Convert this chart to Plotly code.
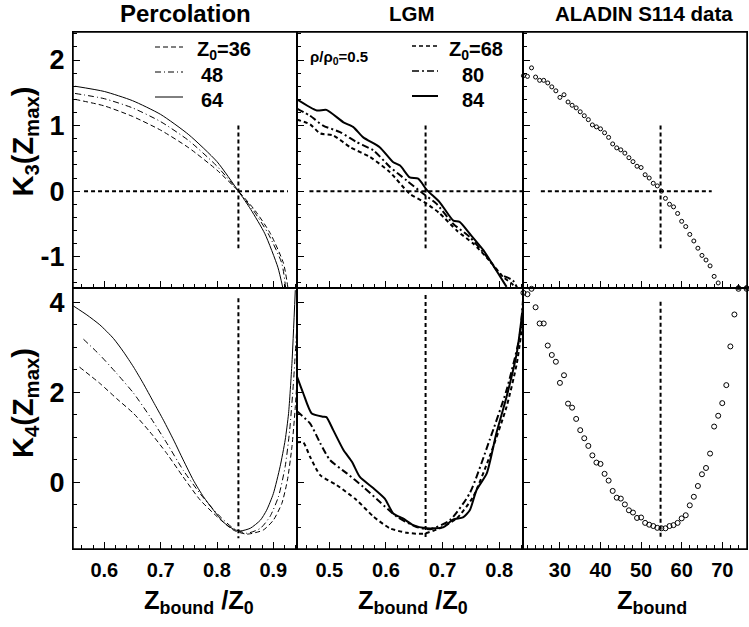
import plotly.graph_objects as go

W, H = 749, 627

# ---------------- data ----------------
# Percolation, K3
perc_k3_x36 = [0.548, 0.60, 0.65, 0.70, 0.75, 0.80, 0.838, 0.868, 0.895, 0.918, 0.926]
perc_k3_y36 = [1.40, 1.30, 1.14, 0.93, 0.66, 0.32, 0.0, -0.30, -0.65, -1.10, -1.48]
perc_k3_x48 = [0.548, 0.60, 0.65, 0.70, 0.75, 0.80, 0.838, 0.865, 0.891, 0.915, 0.922]
perc_k3_y48 = [1.49, 1.41, 1.27, 1.06, 0.77, 0.38, 0.0, -0.30, -0.65, -1.10, -1.48]
perc_k3_x64 = [0.548, 0.60, 0.65, 0.70, 0.75, 0.80, 0.838, 0.86, 0.885, 0.908, 0.917]
perc_k3_y64 = [1.60, 1.52, 1.38, 1.17, 0.86, 0.45, 0.0, -0.28, -0.65, -1.16, -1.48]

# Percolation, K4
perc_k4_x36 = [0.556, 0.592, 0.622, 0.652, 0.681, 0.711, 0.740, 0.770, 0.800, 0.829, 0.853,
               0.882, 0.900, 0.915, 0.925, 0.933, 0.939, 0.944]
perc_k4_y36 = [2.56, 2.20, 1.86, 1.53, 1.12, 0.64, 0.12, -0.39, -0.76, -1.06, -1.15,
               -1.06, -0.84, -0.47, 0.05, 0.79, 1.68, 2.70]
perc_k4_x48 = [0.563, 0.592, 0.622, 0.652, 0.681, 0.711, 0.740, 0.770, 0.800, 0.829, 0.853,
               0.877, 0.894, 0.909, 0.921, 0.929, 0.936, 0.941]
perc_k4_y48 = [3.18, 2.83, 2.42, 1.98, 1.46, 0.87, 0.27, -0.25, -0.69, -1.02, -1.13,
               -1.02, -0.76, -0.32, 0.35, 1.16, 2.27, 3.31]
perc_k4_x64 = [0.545, 0.569, 0.592, 0.616, 0.634, 0.652, 0.669, 0.687, 0.705, 0.723, 0.740,
               0.758, 0.776, 0.794, 0.811, 0.829, 0.841, 0.859, 0.877, 0.888, 0.900, 0.912,
               0.921, 0.927, 0.933, 0.939]
perc_k4_y64 = [3.92, 3.72, 3.50, 3.20, 2.90, 2.56, 2.20, 1.79, 1.38, 0.94, 0.50,
               0.05, -0.32, -0.62, -0.88, -1.04, -1.08, -1.02, -0.84, -0.62, -0.25, 0.35,
               0.94, 1.53, 2.64, 4.27]

# LGM, K3
lgm_k3_x68 = [0.443, 0.466, 0.484, 0.507, 0.537, 0.572, 0.607, 0.642, 0.672, 0.695, 0.725,
              0.754, 0.783, 0.807, 0.822, 0.830]
lgm_k3_y68 = [1.09, 1.02, 0.88, 0.85, 0.67, 0.52, 0.29, -0.04, -0.19, -0.34, -0.60,
              -0.80, -1.06, -1.31, -1.41, -1.48]
lgm_k3_x80 = [0.443, 0.466, 0.489, 0.519, 0.548, 0.578, 0.607, 0.637, 0.666, 0.689, 0.719,
              0.748, 0.778, 0.801, 0.824, 0.832]
lgm_k3_y80 = [1.26, 1.15, 1.00, 0.90, 0.75, 0.62, 0.37, 0.16, -0.04, -0.19, -0.50,
              -0.70, -1.00, -1.26, -1.36, -1.48]
lgm_k3_x84 = [0.443, 0.478, 0.495, 0.525, 0.542, 0.560, 0.589, 0.613, 0.625, 0.642, 0.657,
              0.672, 0.695, 0.719, 0.730, 0.748, 0.772, 0.795, 0.813]
lgm_k3_y84 = [1.40, 1.23, 1.24, 1.05, 0.98, 0.82, 0.67, 0.44, 0.39, 0.21, 0.19,
              0.02, -0.17, -0.45, -0.47, -0.65, -0.90, -1.21, -1.46]

# LGM, K4
lgm_k4_x68 = [0.443, 0.454, 0.466, 0.484, 0.513, 0.548, 0.578, 0.607, 0.637, 0.666, 0.695,
              0.725, 0.754, 0.783, 0.813, 0.831, 0.842]
lgm_k4_y68 = [0.89, 0.89, 0.57, 0.16, -0.06, -0.39, -0.76, -1.02, -1.12, -1.14, -1.02,
              -0.80, -0.32, 0.57, 1.68, 2.64, 3.60]
lgm_k4_x80 = [0.443, 0.466, 0.484, 0.501, 0.531, 0.560, 0.589, 0.619, 0.654, 0.678, 0.713,
              0.748, 0.783, 0.813, 0.836, 0.842]
lgm_k4_y80 = [1.58, 1.31, 0.87, 0.50, 0.20, -0.10, -0.43, -0.76, -0.99, -1.04, -0.84,
              -0.24, 0.94, 2.05, 3.24, 4.05]
lgm_k4_x84 = [0.443, 0.454, 0.469, 0.489, 0.495, 0.507, 0.525, 0.540, 0.554, 0.578, 0.598,
              0.613, 0.630, 0.648, 0.672, 0.701, 0.719, 0.736, 0.748, 0.760, 0.778, 0.795,
              0.813, 0.831, 0.842]
lgm_k4_y84 = [2.35, 1.98, 1.53, 1.46, 1.45, 1.16, 0.72, 0.46, 0.12, -0.13, -0.36,
              -0.69, -0.80, -0.95, -1.02, -1.00, -0.82, -0.78, -0.62, -0.17, 0.20, 1.09,
              1.90, 2.87, 3.90]

# ALADIN S114 data
data_z_k3 = list(range(21, 70)) + [74, 76]
data_k3 = [1.76, 1.75, 1.88, 1.74, 1.69, 1.69, 1.65, 1.59, 1.53, 1.43,
           1.47, 1.36, 1.31, 1.27, 1.21, 1.15, 1.09, 1.01, 0.98, 0.95,
           0.89, 0.82, 0.72, 0.66, 0.63, 0.58, 0.51, 0.45, 0.38, 0.36,
           0.25, 0.20, 0.12, 0.08, 0.00, -0.11, -0.20, -0.24, -0.34, -0.46,
           -0.54, -0.66, -0.76, -0.87, -0.98, -1.05, -1.14, -1.30, -1.40,
           -1.47, -1.47]
data_z_k4 = list(range(21, 75)) + [76]
data_k4 = [4.21, 4.18, 4.30, 3.89, 3.53, 3.53, 3.04, 2.83, 2.68, 2.21,
           2.38, 1.75, 1.66, 1.41, 1.16, 0.98, 0.81, 0.60, 0.44, 0.41,
           0.19, 0.04, -0.19, -0.34, -0.36, -0.49, -0.62, -0.67, -0.79, -0.78,
           -0.90, -0.94, -0.97, -1.01, -1.02, -1.02, -0.97, -0.95, -0.90, -0.80,
           -0.73, -0.51, -0.32, -0.08, 0.18, 0.32, 0.64, 1.24, 1.48, 1.76,
           2.16, 3.02, 3.73, 4.30, 4.30]

# critical-point guide lines
crit_x = [0.838, 0.670, 54.8]
guide_h_x = [[0.564, 0.926], [0.465, 0.842], [25.3, 67.4]]
guide_v_top = [1.0, -0.87]
guide_v_bot = [[4.09, -1.24], [4.16, -1.24], [4.01, -1.24]]

# axes ranges and tick labels
x_ranges = [[0.5444, 0.942], [0.443, 0.842], [20.9, 76.1]]
y_top_range = [-1.477, 2.427]
y_bot_range = [-1.48, 4.318]
k3_ticks = [-1, 0, 1, 2]
k3_ticktext = ["-1", "0", "1", "2"]
k4_ticks = [0, 2, 4]
k4_ticktext = ["0", "2", "4"]

panel_titles = ["Percolation", "LGM", "ALADIN S114 data"]
perc_labels = ["Z<sub>0</sub>=36", "48", "64"]
lgm_labels = ["Z<sub>0</sub>=68", "80", "84"]

FONT = "Liberation Sans"

# ---------------- figure ----------------
fig = go.Figure()

def ax(n):
    return ("x" if n == 1 else f"x{n}"), ("y" if n == 1 else f"y{n}")

thin_dash = "5px,3px"
thin_dd = "6px,3px,1px,3px"
bold_dash = "4px,3px"
bold_dd = "7px,3px,2px,3px"

def line(n, x, y, dash, width):
    xa, ya = ax(n)
    fig.add_trace(go.Scatter(x=x, y=y, mode="lines", xaxis=xa, yaxis=ya,
                             line=dict(color="black", width=width, dash=dash, shape="spline",
                                       smoothing=0.6),
                             showlegend=False, hoverinfo="skip"))

def guide(n, x, y):
    xa, ya = ax(n)
    fig.add_trace(go.Scatter(x=x, y=y, mode="lines", xaxis=xa, yaxis=ya,
                             line=dict(color="black", width=2, dash="4px,3px"),
                             showlegend=False, hoverinfo="skip"))

# Percolation
line(1, perc_k3_x36, perc_k3_y36, thin_dash, 1)
line(1, perc_k3_x48, perc_k3_y48, thin_dd, 1)
line(1, perc_k3_x64, perc_k3_y64, "solid", 1)
line(4, perc_k4_x36, perc_k4_y36, thin_dash, 1)
line(4, perc_k4_x48, perc_k4_y48, thin_dd, 1)
line(4, perc_k4_x64, perc_k4_y64, "solid", 1)
# LGM
line(2, lgm_k3_x68, lgm_k3_y68, bold_dash, 2)
line(2, lgm_k3_x80, lgm_k3_y80, bold_dd, 2)
line(2, lgm_k3_x84, lgm_k3_y84, "solid", 2)
line(5, lgm_k4_x68, lgm_k4_y68, bold_dash, 2)
line(5, lgm_k4_x80, lgm_k4_y80, bold_dd, 2)
line(5, lgm_k4_x84, lgm_k4_y84, "solid", 2)

# data points
for n, zx, zy, sz in [(3, data_z_k3, data_k3, 4), (6, data_z_k4, data_k4, 5)]:
    xa, ya = ax(n)
    fig.add_trace(go.Scatter(x=zx, y=zy, mode="markers", xaxis=xa, yaxis=ya,
                             marker=dict(symbol="circle-open", size=sz, color="black",
                                         line=dict(width=1, color="black")),
                             cliponaxis=False, showlegend=False, hoverinfo="skip"))

# guide lines
for i in range(3):
    guide(i + 1, guide_h_x[i], [0, 0])
    guide(i + 1, [crit_x[i], crit_x[i]], guide_v_top)
    guide(i + 4, [crit_x[i], crit_x[i]], guide_v_bot[i])

# ---------------- axes ----------------
X_DOM = [(73 / W, 297 / W), (297 / W, 523 / W), (523 / W, 747 / W)]
Y_TOP = ((H - 288) / H, (H - 32) / H)
Y_BOT = ((H - 549) / H, (H - 288) / H)
x_major = [0.1, 0.1, 10]
x_minor = [0.02, 0.02, 2]

common = dict(showline=True, mirror=True, linecolor="black", linewidth=1,
              ticks="inside", tickcolor="black", tickwidth=1, showgrid=False,
              zeroline=False, fixedrange=True)

layout = {}
for i in range(3):
    rows = [(Y_TOP, y_top_range, k3_ticks, k3_ticktext, 0.2),
            (Y_BOT, y_bot_range, k4_ticks, k4_ticktext, 0.5)]
    for row, (ydom, yr, tv, tt, ymin) in enumerate(rows):
        n = i + 1 + 3 * row
        xk = "xaxis" if n == 1 else f"xaxis{n}"
        yk = "yaxis" if n == 1 else f"yaxis{n}"
        xa, ya = ax(n)
        layout[xk] = dict(common, domain=list(X_DOM[i]), range=x_ranges[i], anchor=ya,
                          dtick=x_major[i], tick0=0, ticklen=7,
                          minor=dict(dtick=x_minor[i], ticks="inside", ticklen=4,
                                     tickcolor="black", showgrid=False),
                          showticklabels=(row == 1),
                          tickfont=dict(family=FONT, size=20, color="black", weight="bold"),
                          ticklabelstandoff=3)
        layout[yk] = dict(common, domain=list(ydom), range=yr, anchor=xa,
                          tickmode="array", tickvals=tv, ticktext=tt, ticklen=7,
                          minor=dict(dtick=ymin, tick0=0, ticks="inside", ticklen=4,
                                     tickcolor="black", showgrid=False),
                          showticklabels=(i == 0),
                          tickfont=dict(family=FONT, size=27, color="black", weight="bold"),
                          ticklabelstandoff=2)

fig.update_layout(**layout)

# ---------------- text ----------------
def px(x):
    return x / W

def py(y):
    return 1 - y / H

ann = []
def text(s, x, y, size, xanchor="center", yanchor="middle", angle=0):
    ann.append(dict(text=s, x=px(x), y=py(y), xref="paper", yref="paper",
                    showarrow=False, xanchor=xanchor, yanchor=yanchor, textangle=angle,
                    font=dict(family=FONT, size=size, color="black", weight="bold")))

text(panel_titles[0], 185.7, 13, 24)
text(panel_titles[1], 411.7, 14, 20.5)
text(panel_titles[2], 643.7, 14, 20.5)

text("K<sub>3</sub>(Z<sub>max</sub>)", 25, 141.5, 29, angle=-90)
text("K<sub>4</sub>(Z<sub>max</sub>)", 25, 403, 29, angle=-90)

text("Z<sub>bound</sub> /Z<sub>0</sub>", 198.8, 602, 25.5)
text("Z<sub>bound</sub> /Z<sub>0</sub>", 412.5, 602, 25.5)
text("Z<sub>bound</sub>", 651.7, 602, 25.5)

# legends
leg_y = [47, 72, 97]
styles_thin = [thin_dash, thin_dd, "solid"]
styles_bold = [bold_dash, bold_dd, "solid"]
shapes = []
for k in range(3):
    shapes.append(dict(type="line", xref="paper", yref="paper",
                       x0=px(155), x1=px(183), y0=py(leg_y[k]), y1=py(leg_y[k]),
                       line=dict(color="black", width=1, dash=styles_thin[k])))
    shapes.append(dict(type="line", xref="paper", yref="paper",
                       x0=px(412), x1=px(438), y0=py(leg_y[k] - 1), y1=py(leg_y[k] - 1),
                       line=dict(color="black", width=2 if k == 2 else 1.5, dash=styles_bold[k])))
    text(perc_labels[k], 195 if k == 0 else 199, leg_y[k] + 3, 20, xanchor="left")
    text(lgm_labels[k], 446.5 if k == 0 else 460, leg_y[k] + 3, 20, xanchor="left")

text("ρ/ρ<sub>0</sub>=0.5", 308, 58, 15, xanchor="left")

# thicker outer frame around the panel grid
shapes.append(dict(type="rect", xref="paper", yref="paper",
                   x0=X_DOM[0][0], x1=X_DOM[2][1], y0=Y_BOT[0], y1=Y_TOP[1],
                   line=dict(color="black", width=1.5), layer="above"))

fig.update_layout(width=W, height=H, margin=dict(l=0, r=0, t=0, b=0),
                  paper_bgcolor="white", plot_bgcolor="white",
                  annotations=ann, shapes=shapes, showlegend=False)

fig.write_html("out.html", config={"displayModeBar": False},
               post_script="document.body.style.margin='0';document.body.style.overflow='hidden';")
